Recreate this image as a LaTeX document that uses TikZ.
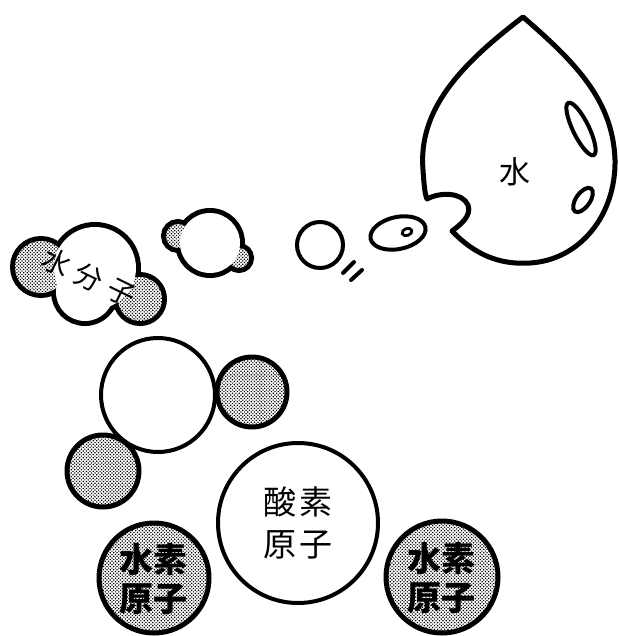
\documentclass[tikz,border=0pt]{standalone}
\usepackage{fontspec}
\newfontfamily\cjk{Noto Sans CJK JP}
\usetikzlibrary{patterns.meta}

\begin{document}
\begin{tikzpicture}[
  x=1pt, y=-1pt,
  ink/.style={draw=black, line width=5pt, line join=round},
  thinink/.style={draw=black, line width=4pt},
  rim/.style={draw=black, line width=10pt},
  tone/.style={pattern={Dots[distance=2.4pt, radius=0.85pt, angle=45]}, pattern color=black},
  label/.style={font=\cjk\fontsize{28}{32}\selectfont, inner sep=0pt},
  atomlabel/.style={font=\cjk\fontsize{33}{42}\selectfont, align=center, inner sep=0pt},
  hlabel/.style={font=\cjk\bfseries\fontsize{34}{39}\selectfont, align=center, inner sep=0pt}
]
\useasboundingbox (0,0) rectangle (618,636);

% Water drop with its notch
\draw[ink, fill=white] (523,17)
  .. controls (460,65) and (418,110) .. (423,170)
  .. controls (424,185) and (425,195) .. (427,199)
  .. controls (440,192) and (462,192) .. (468,205)
  .. controls (472,216) and (460,225) .. (452,231)
  .. controls (475,255) and (500,265) .. (530,263)
  .. controls (580,260) and (616,215) .. (615,160)
  .. controls (613,100) and (575,62) .. (523,17) -- cycle;
\draw[thinink, rotate around={26:(581,129)}] (581,129) ellipse [x radius=8, y radius=29];
\draw[thinink, rotate around={55:(583,200)}] (583,200) ellipse [x radius=14, y radius=7];
\node[label, font=\cjk\fontsize{31}{34}\selectfont] (water) at (515,172) {水};

% Small bubbles leaving the drop
\draw[thinink] (320,245) circle [radius=23];
\draw[thinink, rotate around={12:(398,233)}] (398,233) ellipse [x radius=28, y radius=16];
\draw[line width=2.8pt, rotate around={20:(407,232)}] (407,232) ellipse [x radius=5, y radius=3.5];
\draw[thinink, line cap=round] (343,273) -- (354,262);
\draw[thinink, line cap=round] (351,280) -- (362,270);

% Middle molecule (union outline)
\foreach \c/\r in {(210,243)/30, (178,236)/12, (239,258)/10}
  \draw[rim] \c circle [radius=\r];
\fill[white] (178,236) circle [radius=12] (239,258) circle [radius=10];
\fill[tone] (178,236) circle [radius=12] (239,258) circle [radius=10];
\fill[white] (210,243) circle [radius=30];

% Big molecule cloud
\foreach \c/\r in {(95,268)/41, (85,292)/29, (41,267)/26, (140,299)/22}
  \draw[rim] \c circle [radius=\r];
\fill[white] (41,267) circle [radius=26] (140,299) circle [radius=22];
\fill[tone] (41,267) circle [radius=26] (140,299) circle [radius=22];
\fill[white] (95,268) circle [radius=41] (85,292) circle [radius=29];
\node[label, rotate=-26] (mol1) at (57,262) {水};
\node[label, rotate=-26] (mol2) at (89,277) {分};
\node[label, rotate=-26] (mol3) at (121,293) {子};

% Molecule taken apart
\draw[thinink, fill=white] (158,395) circle [radius=57];
\draw[ink, fill=white] (252,392) circle [radius=35];
\fill[tone] (252,392) circle [radius=35];
\draw[ink, fill=white] (103,471) circle [radius=36];
\fill[tone] (103,471) circle [radius=36];

% Separate atoms
\draw[thinink, fill=white] (298,523) circle [radius=80];
\node[atomlabel] (oxygen) at (298,523) {酸\hspace{3pt}素\\原\hspace{3pt}子};

\draw[ink, fill=white] (154,578) circle [radius=55];
\fill[tone] (154,578) circle [radius=55];
\node[hlabel] (hydrogenL) at (153,579) {水素\\原子};

\draw[ink, fill=white] (442,577) circle [radius=56];
\fill[tone] (442,577) circle [radius=56];
\node[hlabel] (hydrogenR) at (441,578) {水素\\原子};

\end{tikzpicture}
\end{document}
